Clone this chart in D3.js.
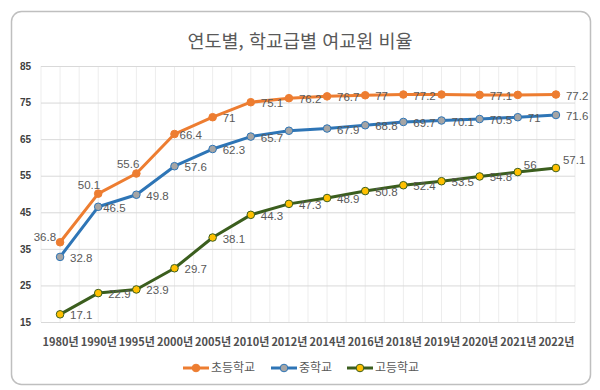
<!doctype html>
<html lang="ko">
<head>
<meta charset="utf-8">
<script src="https://d3js.org/d3.v7.min.js"></script>
<style>
  body { margin: 0; background: #fff; }
  text { font-family: "Noto Sans CJK KR", "Noto Sans", sans-serif; }
</style>
</head>
<body>
<div id="viz"></div>
<script>

// values
const years = ["1980년", "1990년", "1995년", "2000년", "2005년", "2010년", "2012년",
               "2014년", "2016년", "2018년", "2019년", "2020년", "2021년", "2022년"];
const elementary = [36.8, 50.1, 55.6, 66.4, 71, 75.1, 76.2, 76.7, 77, 77.2, 77.2, 77.1, 77.1, 77.2];
const middle     = [32.8, 46.5, 49.8, 57.6, 62.3, 65.7, 67.3, 67.9, 68.8, 69.7, 70.1, 70.5, 71, 71.6];
const high       = [17.1, 22.9, 23.9, 29.7, 38.1, 44.3, 47.3, 48.9, 50.8, 52.4, 53.5, 54.8, 56, 57.1];
const seriesNames = ["초등학교", "중학교", "고등학교"];
const yTicks = [15, 25, 35, 45, 55, 65, 75, 85];

// labels that the original chart does not show
const hiddenLabels = [[10, 12], [6], []];

const width = 600, height = 390;
const margin = {left: 41, right: 25, top: 66, bottom: 68};

const series = [
  {name: seriesNames[0], values: elementary, line: "#ED7D31", fill: "#ED7D31", stroke: "#ED7D31"},
  {name: seriesNames[1], values: middle, line: "#2E75B6", fill: "#A5A5A5", stroke: "#2E75B6"},
  {name: seriesNames[2], values: high, line: "#3B5E1E", fill: "#FFC000", stroke: "#3B5E1E"}
];

const svg = d3.select("#viz").append("svg")
    .attr("width", width)
    .attr("height", height);

// frame
svg.append("rect")
    .attr("x", 11.5).attr("y", 11.5)
    .attr("width", 579).attr("height", 373)
    .attr("rx", 10)
    .attr("fill", "#fff")
    .attr("stroke", "#BFBFBF")
    .attr("stroke-width", 1.5);

svg.append("text")
    .attr("x", 300).attr("y", 47.5)
    .attr("text-anchor", "middle")
    .attr("fill", "#595959")
    .style("font-size", "18.5px")
    .text("연도별, 학교급별 여교원 비율");

const x = d3.scalePoint()
    .domain(years)
    .range([margin.left, width - margin.right])
    .padding(0.5);

const y = d3.scaleLinear()
    .domain([15, 85])
    .range([height - margin.bottom, margin.top]);

// vertical grid at every half step
const step = x.step();
const vlines = d3.range(years.length * 2 + 1).map(i => margin.left + i * step / 2);
svg.append("g").selectAll("line")
    .data(vlines)
    .join("line")
    .attr("x1", d => d).attr("x2", d => d)
    .attr("y1", y(85)).attr("y2", y(15))
    .attr("stroke", "#EDEDED")
    .attr("stroke-width", 1);

// horizontal grid + y labels
const yAxis = svg.append("g")
    .attr("transform", `translate(${margin.left},0)`)
    .call(d3.axisLeft(y).tickValues(yTicks).tickSize(-(width - margin.left - margin.right)).tickPadding(10));
yAxis.select(".domain").remove();
yAxis.selectAll(".tick line").attr("stroke", "#D9D9D9").attr("stroke-width", 1);
yAxis.selectAll(".tick text")
    .attr("fill", "#404040")
    .style("font-size", "10px")
    .style("font-weight", "bold")
    .style("font-family", "'Liberation Sans', Arial, sans-serif");

// x labels
const xAxis = svg.append("g")
    .attr("transform", `translate(0,${y(15)})`)
    .call(d3.axisBottom(x).tickSize(0).tickPadding(16));
xAxis.select(".domain").remove();
xAxis.selectAll(".tick text")
    .attr("fill", "#505050")
    .style("font-size", "11px")
    .style("font-weight", "bold");

const line = d3.line()
    .x((d, i) => x(years[i]))
    .y(d => y(d));

series.forEach(s => {
  svg.append("path")
      .datum(s.values)
      .attr("fill", "none")
      .attr("stroke", s.line)
      .attr("stroke-width", 3)
      .attr("stroke-linejoin", "round")
      .attr("d", line);
});

// data labels: default right of the point, a few moved like in the original
const labelPos = {
  "0-0": [-4, -5, "end"], "0-1": [2, -9, "end"], "0-2": [3, -10, "end"], "0-3": [5, 1, "start"],
  "1-1": [5, 1, "start"],
  "2-12": [6, -7, "start"], "2-13": [7, -8, "start"]
};

series.forEach((s, si) => {
  svg.append("g").selectAll("text")
      .data(s.values.map((v, i) => ({v, i})).filter(d => !hiddenLabels[si].includes(d.i)))
      .join("text")
      .attr("x", d => x(years[d.i]) + (labelPos[si + "-" + d.i] || [10])[0])
      .attr("y", d => y(d.v) + (labelPos[si + "-" + d.i] || [0, 1])[1])
      .attr("dy", "0.35em")
      .attr("text-anchor", d => (labelPos[si + "-" + d.i] || [0, 0, "start"])[2])
      .attr("fill", "#595959")
      .style("font-size", "11.5px")
      .style("font-family", "'Liberation Sans', Arial, sans-serif")
      .text(d => d.v);
});

series.forEach(s => {
  svg.append("g").selectAll("circle")
      .data(s.values)
      .join("circle")
      .attr("cx", (d, i) => x(years[i]))
      .attr("cy", d => y(d))
      .attr("r", 3.8)
      .attr("fill", s.fill)
      .attr("stroke", s.stroke)
      .attr("stroke-width", 1);
});

// legend
const legendX = [183, 271, 347];
const legend = svg.append("g")
    .selectAll("g")
    .data(series)
    .join("g")
    .attr("transform", (d, i) => `translate(${legendX[i]},368)`);
legend.append("line")
    .attr("x1", 0).attr("x2", 26)
    .attr("stroke", d => d.line)
    .attr("stroke-width", 3);
legend.append("circle")
    .attr("cx", 13).attr("r", 3.8)
    .attr("fill", d => d.fill)
    .attr("stroke", d => d.stroke);
legend.append("text")
    .attr("x", 28).attr("dy", "0.35em")
    .attr("fill", "#595959")
    .style("font-size", "12px")
    .text(d => d.name);

</script>
</body>
</html>
